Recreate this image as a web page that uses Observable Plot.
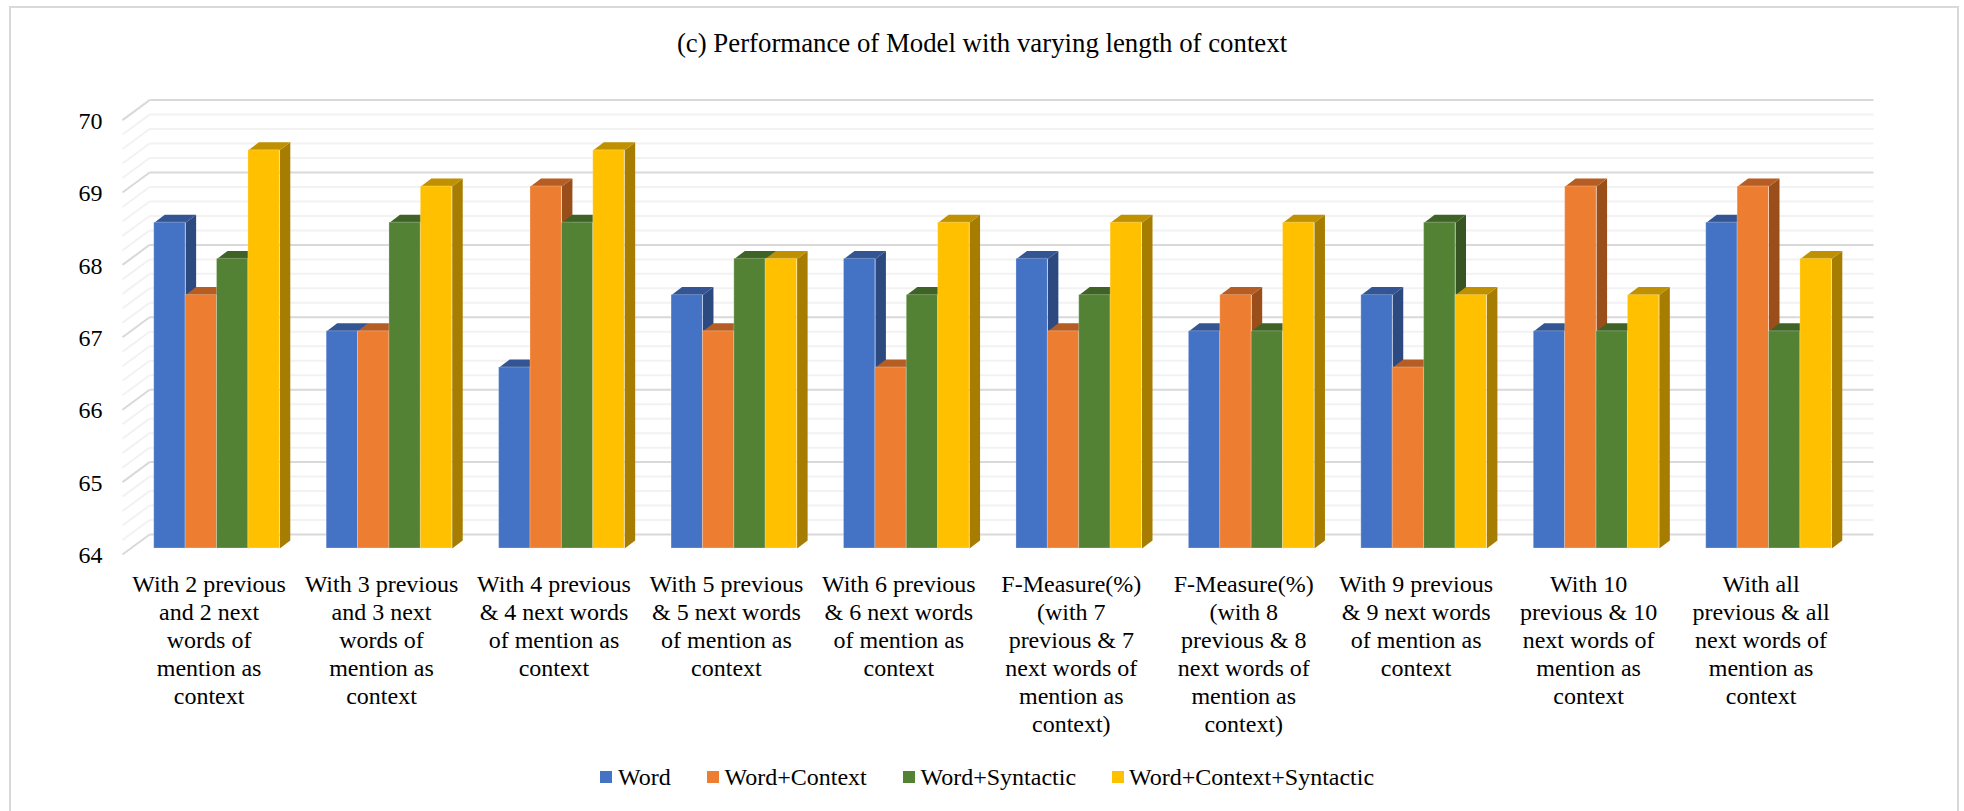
<!DOCTYPE html>
<html>
<head>
<meta charset="utf-8">
<script src="https://cdn.jsdelivr.net/npm/d3@7"></script>
<script src="https://cdn.jsdelivr.net/npm/@observablehq/plot@0.6"></script>
<style>
  html, body { margin: 0; padding: 0; background: #fff; width: 1964px; height: 811px; overflow: hidden; }
  body { font-family: "Liberation Serif", serif; color: #000; position: relative; }
  #frame { position: absolute; left: 9px; top: 6px; width: 1946px; height: 900px; border: 2px solid #D9D9D9; box-sizing: content-box; }
  #title { position: absolute; left: 0; width: 1964px; top: 25px; text-align: center; font-size: 26.8px; line-height: 36px; }
  #chart { position: absolute; left: 0; top: 70px; }
  #legend { position: absolute; left: 0; top: 760px; height: 34px; font-size: 24px; line-height: 34px; }
  .item { position: absolute; top: 0; white-space: nowrap; }
  .swatch { position: absolute; top: 11px; width: 12px; height: 12px; }
  .item span { position: absolute; top: 0; }
</style>
</head>
<body>
<div id="frame"></div>
<div id="title"></div>
<div id="chart"></div>
<div id="legend"></div>
<script>
const chartTitle = "(c) Performance of Model with varying length of context";
const categories = [
  "With 2 previous\nand 2 next\nwords of\nmention as\ncontext",
  "With 3 previous\nand 3 next\nwords of\nmention as\ncontext",
  "With 4 previous\n& 4 next words\nof mention as\ncontext",
  "With 5 previous\n& 5 next words\nof mention as\ncontext",
  "With 6 previous\n& 6 next words\nof mention as\ncontext",
  "F-Measure(%)\n(with 7\nprevious & 7\nnext words of\nmention as\ncontext)",
  "F-Measure(%)\n(with 8\nprevious & 8\nnext words of\nmention as\ncontext)",
  "With 9 previous\n& 9 next words\nof mention as\ncontext",
  "With 10\nprevious & 10\nnext words of\nmention as\ncontext",
  "With all\nprevious & all\nnext words of\nmention as\ncontext"
];
const seriesNames = ["Word", "Word+Context", "Word+Syntactic", "Word+Context+Syntactic"];
const word = [68.5, 67, 66.5, 67.5, 68, 68, 67, 67.5, 67, 68.5];
const wordContext = [67.5, 67, 69, 67, 66.5, 67, 67.5, 66.5, 69, 69];
const wordSyntactic = [68, 68.5, 68.5, 68, 67.5, 67.5, 67, 68.5, 67, 67];
const wordContextSyntactic = [69.5, 69, 69.5, 68, 68.5, 68.5, 68.5, 67.5, 67.5, 68];
const series = [word, wordContext, wordSyntactic, wordContextSyntactic];
const frontColors = ["#4472C4", "#ED7D31", "#548235", "#FFC000"];
const topColors = ["#335593", "#B65D24", "#3F6227", "#BF9000"];
const sideColors = ["#2C4A80", "#9A4F1B", "#365522", "#A67D00"];
const yTicks = [64, 65, 66, 67, 68, 69, 70];
const yBase = 64;

// Depth of the pseudo-3D drawing, in scale units (one x unit = one category)
const barW = 0.182, depthX = 0.061, depthY = 0.11;
const wallFrontX = -0.184, wallBackX = -0.027, wallEndX = 9.97;
const wallFrontY = -0.083, wallBackY = 0.193;

const minorTicks = d3.range(0, 31).map(i => yBase + i * 0.2).filter(v => Math.abs(v - Math.round(v)) > 1e-6);

const poly = (pts, fill) => Plot.line(pts, {x: d => d[0], y: d => d[1], fill, stroke: "none"});

const barMarks = categories.flatMap((_, i) => series.flatMap((vals, s) => {
  const x1 = i + s * barW, x2 = x1 + barW, v = vals[i];
  return [
    poly([[x2, yBase], [x2 + depthX, yBase + depthY], [x2 + depthX, v + depthY], [x2, v], [x2, yBase]], sideColors[s]),
    poly([[x1, v], [x2, v], [x2 + depthX, v + depthY], [x1 + depthX, v + depthY], [x1, v]], topColors[s]),
    Plot.rect([{x1, x2, y1: yBase, y2: v}], {x1: "x1", x2: "x2", y1: "y1", y2: "y2", fill: frontColors[s], stroke: "#fff", strokeOpacity: 0.25, strokeWidth: 1})
  ];
}));

const wallLines = (ticks, color) => [
  Plot.link(ticks, {x1: wallFrontX, x2: wallBackX, y1: d => d + wallFrontY, y2: d => d + wallBackY, stroke: color, strokeWidth: 2}),
  Plot.link(ticks, {x1: wallBackX, x2: wallEndX, y1: d => d + wallBackY, y2: d => d + wallBackY, stroke: color, strokeWidth: 2})
];

const plot = Plot.plot({
  width: 1964,
  height: 680,
  marginLeft: 122,
  marginRight: 91,
  marginTop: 29.6,
  marginBottom: 196,
  style: {background: "transparent", fontFamily: "'Liberation Serif', serif", color: "#000"},
  x: {axis: null, type: "linear", domain: [wallFrontX, wallEndX]},
  y: {type: "linear", domain: [yBase + wallFrontY, 70 + wallBackY]},
  marks: [
    ...wallLines(minorTicks, "#F2F2F2"),
    ...wallLines(yTicks, "#D9D9D9"),
    ...barMarks,
    Plot.axisY({ticks: yTicks, tickFormat: d => String(d), tickSize: 0, tickPadding: 20, dy: 7, label: null, fontSize: 24, fill: "#000"}),
    Plot.text(categories, {
      x: (_, i) => i + 0.318, y: yBase, text: d => d,
      lineAnchor: "top", textAnchor: "middle", dy: 24,
      fontSize: 24, lineHeight: 28 / 24, fill: "#000"
    })
  ]
});
plot.style.maxWidth = "none";
document.getElementById("chart").appendChild(plot);
document.getElementById("title").textContent = chartTitle;

const legendSwatchX = [600, 707, 903, 1112];
const legendTextX = [618, 724.5, 920.5, 1129];
const legend = document.getElementById("legend");
seriesNames.forEach((name, s) => {
  const it = document.createElement("div");
  it.className = "item";
  it.innerHTML = `<div class="swatch" style="left:${legendSwatchX[s]}px;background:${frontColors[s]}"></div><span style="left:${legendTextX[s]}px">${name}</span>`;
  legend.appendChild(it);
});
</script>
</body>
</html>
